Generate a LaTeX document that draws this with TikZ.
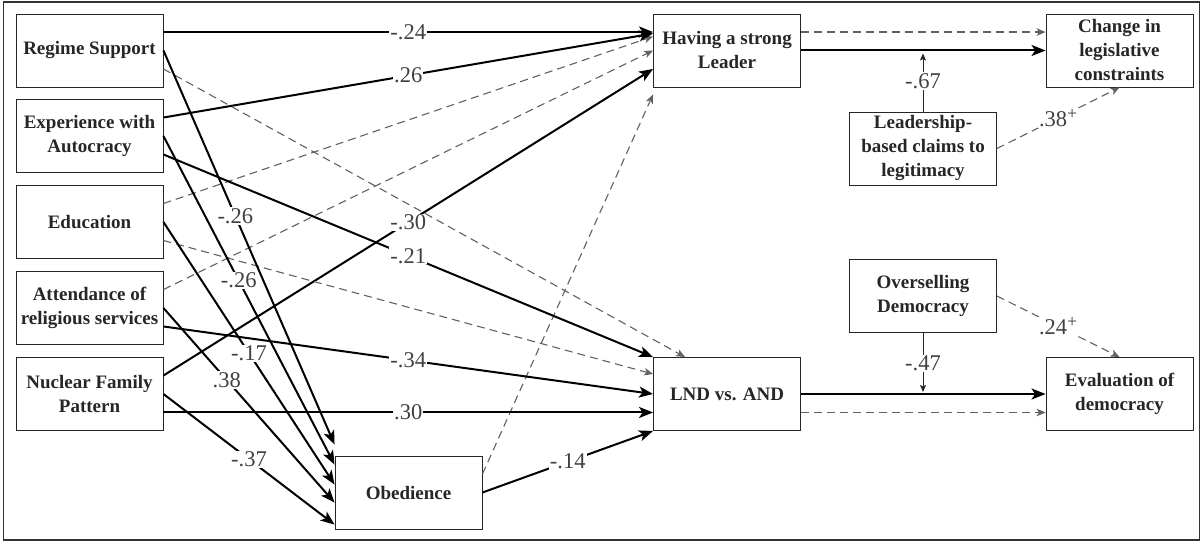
\documentclass[tikz,border=0pt]{standalone}
\usepackage{fontspec}
\setmainfont{Liberation Serif}
\usetikzlibrary{arrows.meta,calc}
\newcommand{\supplus}{\raisebox{7pt}{\fontsize{18}{18}\selectfont+}}
\begin{document}
\begin{tikzpicture}[x=1pt,y=-1pt,
  box/.style={draw=black!85, line width=0.9pt, minimum width=147pt, minimum height=73pt, inner sep=1pt, align=center, font=\fontsize{19}{24}\selectfont\bfseries, text=black!85},
  sol/.style={draw=black, line width=2pt, -{Stealth[length=14pt,width=11pt,inset=3.5pt]}},
  das/.style={draw=black!62, line width=1.1pt, dash pattern=on 8pt off 5pt, -{Stealth[length=9pt,width=7.5pt,inset=2.5pt]}},
  modl/.style={draw=black!85, line width=1pt, -{Stealth[length=7pt,width=6pt,inset=1.5pt]}},
  lab/.style={fill=white, inner sep=1pt, font=\fontsize{22.5}{22.5}\selectfont, text=black!75},
]
\useasboundingbox (0,0) rectangle (1202,543);
\draw[line width=1.5pt, black!80] (3.5,2) rectangle (1199.5,540);

% nodes
\node[box] (rs) at (89.5,50.5) {Regime Support};
\node[box] (ea) at (89.5,136) {Experience with\\Autocracy};
\node[box] (ed) at (89.5,222) {Education};
\node[box] (at) at (89.5,308) {Attendance of\\religious services};
\node[box] (nf) at (89.5,394) {Nuclear Family\\Pattern};
\node[box] (ob) at (408.5,492.5) {Obedience};
\node[box] (hl) at (727,50.5) {Having a strong\\Leader};
\node[box] (lnd) at (727,394) {LND vs. AND};
\node[box] (cl) at (1119.5,50.5) {Change in\\legislative\\constraints};
\node[box] (lb) at (923,148.5) {Leadership-\\based claims to\\legitimacy};
\node[box] (os) at (923,296) {Overselling\\Democracy};
\node[box] (ev) at (1119.5,394) {Evaluation of\\democracy};

% to Leader
\draw[sol] ($(rs.north east)!.25!(rs.south east)$) -- node[lab]{-.24} ($(hl.north west)!.25!(hl.south west)$);
\draw[das] ($(ed.north east)!.25!(ed.south east)$) -- ($(hl.north west)!.31!(hl.south west)$);
\draw[sol] ($(ea.north east)!.25!(ea.south east)$) -- node[lab]{.26} ($(hl.north west)!.27!(hl.south west)$);
\draw[das] ($(at.north east)!.25!(at.south east)$) -- (hl.west);
\draw[sol] ($(nf.north east)!.25!(nf.south east)$) -- node[lab]{-.30} ($(hl.north west)!.75!(hl.south west)$);
\draw[das] ($(ob.north east)!.25!(ob.south east)$) -- ($(hl.south west)+(0,7)$);

% to LND
\draw[das] ($(rs.north east)!.75!(rs.south east)$) -- ($(lnd.north west)+(32,0)$);
\draw[das] ($(ed.north east)!.75!(ed.south east)$) -- ($(lnd.north west)!.23!(lnd.south west)$);
\draw[sol] ($(ea.north east)!.75!(ea.south east)$) -- node[lab]{-.21} (lnd.north west);
\draw[sol] ($(at.north east)!.75!(at.south east)$) -- node[lab]{-.34} (lnd.west);
\draw[sol] ($(nf.north east)!.75!(nf.south east)$) -- node[lab]{.30} ($(lnd.north west)!.75!(lnd.south west)$);
\draw[sol] (ob.east) -- node[lab]{-.14} (lnd.south west);

% to Obedience
\draw[sol] ($(rs.north east)!.5!(rs.south east)$) -- node[lab,pos=.42]{-.26} ($(ob.north west)+(0,-11)$);
\draw[sol] ($(ea.north east)!.5!(ea.south east)$) -- node[lab,pos=.44]{-.26} ($(ob.north west)+(0,9)$);
\draw[sol] ($(ed.north east)!.5!(ed.south east)$) -- node[lab,pos=.5]{-.17} ($(ob.north west)+(0,29)$);
\draw[sol] ($(at.north east)!.5!(at.south east)$) -- node[lab,pos=.37]{.38} ($(ob.north west)+(0,47)$);
\draw[sol] ($(nf.north east)!.5!(nf.south east)$) -- node[lab,pos=.5]{-.37} ($(ob.north west)+(0,69)$);

% right part
\draw[das] ($(hl.north east)!.25!(hl.south east)$) -- ($(cl.north west)!.25!(cl.south west)$);
\draw[sol] (hl.east) -- (cl.west);
\draw[sol] (lnd.east) -- (ev.west);
\draw[das] ($(lnd.north east)!.75!(lnd.south east)$) -- ($(ev.north west)!.75!(ev.south west)$);
\draw[das] (lb.east) -- node[lab]{.38\supplus} (cl.south);
\draw[das] (os.east) -- node[lab]{.24\supplus} (ev.north);

% moderators
\coordinate (m1) at (lb.north |- hl.east);
\coordinate (m2) at (os.south |- lnd.east);
\draw[modl, shorten >=3pt] (lb.north) -- node[lab]{-.67} (m1);
\draw[modl, shorten >=2pt] (os.south) -- node[lab]{-.47} (m2);
\end{tikzpicture}
\end{document}
